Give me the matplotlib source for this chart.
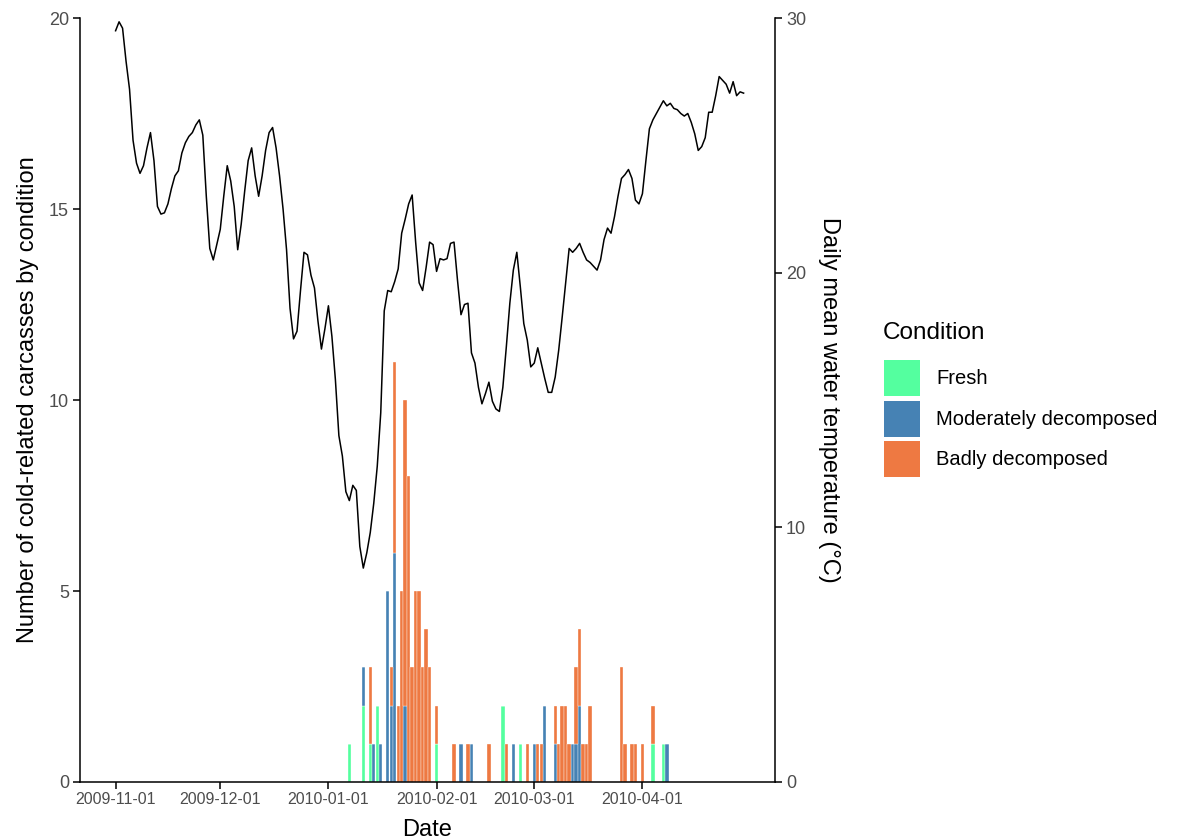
import matplotlib
matplotlib.use('Agg')
import matplotlib.pyplot as plt
import matplotlib.dates as mdates
from matplotlib.patches import Patch
import pandas as pd

plt.rcParams['font.family'] = ['Liberation Sans', 'DejaVu Sans']

# Daily mean water temperature (deg C), 2009-11-01 .. 2010-04-30
temp_start = '2009-11-01'
temp = [29.5, 29.85, 29.6, 28.3, 27.2, 25.2, 24.3, 23.9, 24.2, 24.9,
        25.5, 24.4, 22.6, 22.3, 22.35, 22.7, 23.3, 23.8, 24.0, 24.7,
        25.1, 25.35, 25.5, 25.8, 26.0, 25.4, 23.0, 20.95, 20.5, 21.1,
        21.7, 23.0, 24.2, 23.6, 22.6, 20.9, 21.9, 23.2, 24.4, 24.9,
        23.8, 23.0, 23.8, 24.8, 25.5, 25.7, 24.9, 23.8, 22.5, 20.9,
        18.6, 17.4, 17.7, 19.3, 20.8, 20.7, 19.9, 19.4, 18.1, 17.0,
        17.8, 18.7, 17.5, 15.8, 13.6, 12.8, 11.4, 11.05, 11.65, 11.45,
        9.25, 8.4, 9.0, 9.8, 10.95, 12.4, 14.5, 18.5, 19.3, 19.25,
        19.65, 20.15, 21.55, 22.1, 22.7, 23.05, 21.2, 19.6, 19.3, 20.2,
        21.2, 21.1, 20.05, 20.55, 20.5, 20.55, 21.15, 21.2, 19.7, 18.35,
        18.75, 18.8, 16.85, 16.45, 15.5, 14.85, 15.25, 15.7, 14.95, 14.65,
        14.55, 15.5, 17.1, 18.8, 20.1, 20.8, 19.45, 18.0, 17.35, 16.3,
        16.45, 17.05, 16.45, 15.85, 15.3, 15.3, 15.9, 16.95, 18.25, 19.6,
        20.95, 20.8, 20.95, 21.15, 20.8, 20.5, 20.4, 20.25, 20.1, 20.5,
        21.3, 21.75, 21.55, 22.2, 23.0, 23.7, 23.85, 24.05, 23.7, 22.85,
        22.7, 23.1, 24.4, 25.65, 26.0, 26.25, 26.5, 26.75, 26.55, 26.65,
        26.45, 26.4, 26.25, 26.15, 26.25, 25.9, 25.45, 24.8, 24.95, 25.3,
        26.3, 26.3, 26.95, 27.7, 27.55, 27.4, 27.05, 27.5, 26.95, 27.1,
        27.05]

# Carcass counts by day and condition
bar_dates = ['2010-01-07', '2010-01-11', '2010-01-13', '2010-01-14', '2010-01-15',
             '2010-01-16', '2010-01-18', '2010-01-19', '2010-01-20', '2010-01-21',
             '2010-01-22', '2010-01-23', '2010-01-24', '2010-01-25', '2010-01-26',
             '2010-01-27', '2010-01-28', '2010-01-29', '2010-01-30', '2010-02-01',
             '2010-02-06', '2010-02-08', '2010-02-10', '2010-02-11', '2010-02-16',
             '2010-02-20', '2010-02-21', '2010-02-23', '2010-02-25', '2010-02-27',
             '2010-03-01', '2010-03-02', '2010-03-03', '2010-03-04', '2010-03-07',
             '2010-03-08', '2010-03-09', '2010-03-10', '2010-03-11', '2010-03-12',
             '2010-03-13', '2010-03-14', '2010-03-15', '2010-03-16', '2010-03-17',
             '2010-03-26', '2010-03-27', '2010-03-29', '2010-03-30', '2010-04-01',
             '2010-04-04', '2010-04-07', '2010-04-08']
fresh = [1, 2, 1, 0, 2, 0, 0, 0, 0, 0,
         0, 0, 0, 0, 0, 0, 0, 0, 0, 1,
         0, 0, 0, 0, 0, 2, 0, 0, 1, 0,
         0, 0, 0, 0, 0, 0, 0, 0, 0, 0,
         0, 0, 0, 0, 0, 0, 0, 0, 0, 0,
         1, 1, 0]
moderate = [0, 1, 0, 1, 0, 1, 5, 2, 6, 0,
            0, 2, 0, 0, 0, 0, 0, 0, 0, 0,
            0, 1, 0, 1, 0, 0, 0, 1, 0, 0,
            1, 0, 0, 2, 1, 0, 0, 0, 0, 1,
            1, 2, 0, 0, 0, 0, 0, 0, 0, 0,
            0, 0, 1]
badly = [0, 0, 2, 0, 0, 0, 0, 1, 5, 2,
         5, 8, 8, 3, 5, 5, 3, 4, 3, 1,
         1, 0, 1, 0, 1, 0, 1, 0, 0, 1,
         0, 1, 1, 0, 1, 1, 2, 2, 1, 0,
         2, 2, 1, 1, 2, 3, 1, 1, 1, 1,
         1, 0, 0]

conditions = ['Fresh', 'Moderately decomposed', 'Badly decomposed']
colors = ['#54FF9F', '#4682B4', '#EE7942']
month_ticks = ['2009-11-01', '2009-12-01', '2010-01-01', '2010-02-01', '2010-03-01', '2010-04-01']
grey = '#4D4D4D'

days = pd.date_range(temp_start, periods=len(temp), freq='D')
bdays = pd.to_datetime(bar_dates)

fig = plt.figure(figsize=(11.79, 8.39), dpi=100)
ax = fig.add_axes([80 / 1179, 1 - 782 / 839, 695 / 1179, 764 / 839])

bottom = [0] * len(bdays)
for vals, col in zip([fresh, moderate, badly], colors):
    ax.bar(bdays, vals, bottom=bottom, width=0.97, color=col,
           edgecolor='white', linewidth=0.25)
    bottom = [b + v for b, v in zip(bottom, vals)]

ax.set_ylim(0, 20)
ax.set_yticks([0, 5, 10, 15, 20])
ax.set_xlim(pd.Timestamp(temp_start) - pd.Timedelta(days=10.2),
            pd.Timestamp(temp_start) + pd.Timedelta(days=189))
ax.set_xticks(pd.to_datetime(month_ticks))
ax.xaxis.set_major_formatter(mdates.DateFormatter('%Y-%m-%d'))

ax2 = ax.twinx()
ax2.plot(days, temp, color='black', linewidth=1.1)
ax2.set_ylim(0, 30)
ax2.set_yticks([0, 10, 20, 30])

for a in (ax, ax2):
    a.spines['top'].set_visible(False)
    for s in a.spines.values():
        s.set_linewidth(1.1)
    a.tick_params(length=5, width=1.1, colors='black', labelcolor=grey)
ax.spines['right'].set_visible(False)
ax2.spines['left'].set_visible(False)
ax2.spines['bottom'].set_visible(False)
ax.tick_params(axis='x', labelsize=11.5, pad=2)
ax.tick_params(axis='y', labelsize=13, pad=3)
ax2.tick_params(axis='y', labelsize=13, pad=3)

ax.set_xlabel('Date', fontsize=17, labelpad=9)
ax.set_ylabel('Number of cold-related carcasses by condition', fontsize=17, labelpad=7)
ax2.set_ylabel('Daily mean water temperature (°C)', fontsize=17, rotation=270,
               labelpad=24)

fig.text(883 / 1179, 1 - 333 / 839, 'Condition', fontsize=17.5, va='center', ha='left')
handles = [Patch(facecolor=c, edgecolor='none', label=l) for c, l in zip(colors, conditions)]
fig.legend(handles=handles, loc='upper left',
           bbox_to_anchor=(866 / 1179, 1 - 342 / 839), frameon=False,
           fontsize=14.5, handlelength=1.8, handleheight=2.4,
           handletextpad=0.8, labelspacing=0.2)

fig.savefig('out.png', dpi=100)
